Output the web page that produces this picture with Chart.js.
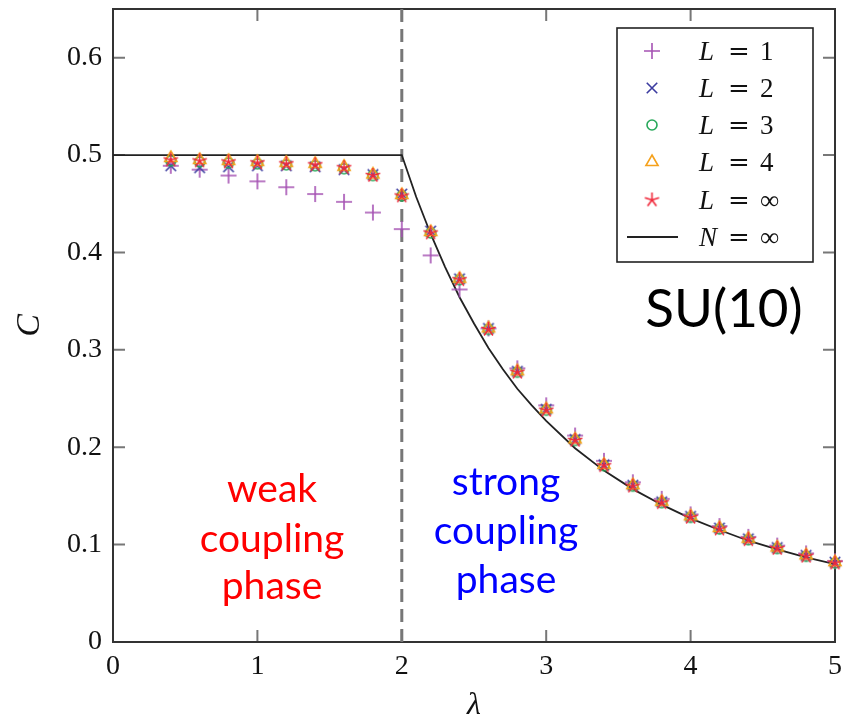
<!DOCTYPE html>
<html>
<head>
<meta charset="utf-8">
<script src="https://cdn.jsdelivr.net/npm/chart.js@4.4.1/dist/chart.umd.min.js"></script>
<style>
  html, body { margin: 0; padding: 0; background: #fff; }
  #wrap { width: 844px; height: 721px; }
</style>
</head>
<body>
<div id="wrap"><canvas id="c" width="844" height="721"></canvas></div>
<script>
// Coupling values λ at which C was computed
const lambdaVals = [0.4, 0.6, 0.8, 1.0, 1.2, 1.4, 1.6, 1.8, 2.0, 2.2, 2.4, 2.6,
                    2.8, 3.0, 3.2, 3.4, 3.6, 3.8, 4.0, 4.2, 4.4, 4.6, 4.8, 5.0];

// C for each truncation L
const cL1 = [0.489, 0.485, 0.479, 0.473, 0.467, 0.460, 0.452, 0.441, 0.424, 0.397, 0.362, 0.322,
             0.281, 0.243, 0.212, 0.186, 0.164, 0.147, 0.131, 0.119, 0.108, 0.099, 0.091, 0.083];
const cL2 = [0.489, 0.487, 0.488, 0.489, 0.489, 0.488, 0.485, 0.480, 0.460, 0.422, 0.373, 0.322,
             0.278, 0.239, 0.208, 0.182, 0.161, 0.144, 0.129, 0.117, 0.106, 0.097, 0.089, 0.082];
const cL3 = [0.494, 0.493, 0.492, 0.491, 0.490, 0.489, 0.486, 0.479, 0.458, 0.420, 0.372, 0.321,
             0.277, 0.238, 0.207, 0.181, 0.160, 0.143, 0.128, 0.116, 0.105, 0.096, 0.088, 0.081];
const cL4 = [0.497, 0.495, 0.494, 0.493, 0.492, 0.491, 0.488, 0.480, 0.459, 0.421, 0.373, 0.322,
             0.278, 0.239, 0.208, 0.182, 0.161, 0.144, 0.129, 0.117, 0.106, 0.097, 0.089, 0.082];
const cLinf = [0.495, 0.494, 0.493, 0.492, 0.491, 0.490, 0.487, 0.479, 0.458, 0.420, 0.372, 0.321,
               0.277, 0.238, 0.207, 0.181, 0.160, 0.143, 0.128, 0.116, 0.105, 0.096, 0.088, 0.081];

// Large-N curve
const curveLambda = [0, 2.0, 2.1, 2.2, 2.3, 2.4, 2.5, 2.6, 2.7, 2.8, 2.9, 3.0,
                     3.2, 3.4, 3.6, 3.8, 4.0, 4.2, 4.4, 4.6, 4.8, 5.0];
const curveC = [0.500, 0.500, 0.457, 0.419, 0.385, 0.354, 0.327, 0.302, 0.280, 0.260, 0.243, 0.227,
                0.199, 0.176, 0.157, 0.141, 0.127, 0.115, 0.104, 0.095, 0.087, 0.080];

// Phase boundary
const criticalLambda = 2;

// Axis ticks
const xTicks = [0, 1, 2, 3, 4, 5];
const yTicks = [0, 0.1, 0.2, 0.3, 0.4, 0.5, 0.6];

const seriesLabels = ['1', '2', '3', '4', '\u221E'];

const COLORS = {
  L1: '#a552b3',
  L2: '#3c3ca0',
  L3: '#27a85a',
  L4: '#f5a11c',
  Linf: '#f0283a',
  curve: '#222222',
  dash: '#777777'
};

// Marker glyphs drawn once onto small canvases
function makeMarker(kind, color, r) {
  const s = Math.ceil(2 * r + 4);
  const cv = document.createElement('canvas');
  cv.width = s; cv.height = s;
  const g = cv.getContext('2d');
  g.strokeStyle = color;
  g.lineWidth = 1.6;
  const c = s / 2;
  g.beginPath();
  if (kind === 'plus') {
    g.moveTo(c - r, c); g.lineTo(c + r, c);
    g.moveTo(c, c - r); g.lineTo(c, c + r);
  } else if (kind === 'cross') {
    const d = r * 0.75;
    g.moveTo(c - d, c - d); g.lineTo(c + d, c + d);
    g.moveTo(c - d, c + d); g.lineTo(c + d, c - d);
  } else if (kind === 'circle') {
    g.arc(c, c, r, 0, Math.PI * 2);
  } else if (kind === 'triangle') {
    g.moveTo(c, c - r);
    g.lineTo(c + r * 0.866, c + r * 0.5);
    g.lineTo(c - r * 0.866, c + r * 0.5);
    g.closePath();
  } else if (kind === 'star') {
    for (let k = 0; k < 5; k++) {
      const a = (-90 + 72 * k) * Math.PI / 180;
      g.moveTo(c, c);
      g.lineTo(c + r * Math.cos(a), c + r * Math.sin(a));
    }
  }
  g.stroke();
  return cv;
}

const markers = [
  makeMarker('plus', COLORS.L1, 8),
  makeMarker('cross', COLORS.L2, 7),
  makeMarker('circle', COLORS.L3, 5),
  makeMarker('triangle', COLORS.L4, 7),
  makeMarker('star', COLORS.Linf, 7.5)
];

function pts(xs, ys) { return xs.map((x, i) => ({ x: x, y: ys[i] })); }

function markerSet(label, ys, marker, order) {
  return {
    label: label,
    data: pts(lambdaVals, ys),
    showLine: false,
    pointStyle: marker,
    pointRadius: 8,
    pointHoverRadius: 8,
    order: order,
    clip: false
  };
}

const datasets = [
  markerSet('L = 1', cL1, markers[0], 5),
  markerSet('L = 2', cL2, markers[1], 4),
  markerSet('L = 3', cL3, markers[2], 3),
  markerSet('L = 4', cL4, markers[3], 2),
  markerSet('L = \u221E', cLinf, markers[4], 1),
  {
    label: 'N = \u221E',
    data: pts(curveLambda, curveC),
    showLine: true,
    borderColor: COLORS.curve,
    borderWidth: 1.8,
    pointRadius: 0,
    tension: 0,
    order: 8
  },
  {
    label: 'boundary',
    data: [{ x: criticalLambda, y: 0 }, { x: criticalLambda, y: 0.65 }],
    showLine: true,
    borderColor: COLORS.dash,
    borderWidth: 3,
    borderDash: [13, 7],
    pointRadius: 0,
    order: 9
  }
];

const serif = '"Liberation Serif", "DejaVu Serif", serif';
const sans = 'Lato, "DejaVu Sans", sans-serif';

// Frame, inward ticks on all four sides, phase labels and the legend box
const decorations = {
  id: 'decorations',
  beforeDatasetsDraw(chart) {
    const { ctx, chartArea: a, scales } = chart;
    ctx.save();
    ctx.strokeStyle = '#777';
    ctx.lineWidth = 2;
    const tl = 12;
    ctx.beginPath();
    xTicks.forEach(v => {
      if (v <= 0 || v >= 5) return;
      const px = scales.x.getPixelForValue(v);
      ctx.moveTo(px, a.bottom); ctx.lineTo(px, a.bottom - tl);
      ctx.moveTo(px, a.top); ctx.lineTo(px, a.top + tl);
    });
    yTicks.forEach(v => {
      if (v <= 0) return;
      const py = scales.y.getPixelForValue(v);
      ctx.moveTo(a.left, py); ctx.lineTo(a.left + tl, py);
      ctx.moveTo(a.right, py); ctx.lineTo(a.right - tl, py);
    });
    ctx.stroke();
    ctx.strokeStyle = '#333';
    ctx.lineWidth = 2;
    ctx.strokeRect(a.left, a.top, a.right - a.left, a.bottom - a.top);
    ctx.restore();
  },
  afterDraw(chart) {
    const { ctx } = chart;
    ctx.save();
    ctx.textAlign = 'center';
    ctx.textBaseline = 'alphabetic';
    ctx.font = '39px ' + sans;
    ctx.fillStyle = '#ff0000';
    ctx.fillText('weak', 272, 502);
    ctx.fillText('coupling', 272, 552);
    ctx.fillText('phase', 272, 599);
    ctx.fillStyle = '#0000ff';
    ctx.fillText('strong', 506, 495);
    ctx.fillText('coupling', 506, 544);
    ctx.fillText('phase', 506, 593);
    ctx.fillStyle = '#000';
    ctx.font = '53px ' + sans;
    ctx.fillText('SU(10)', 724, 327);

    // legend
    const bx = 617, by = 28, bw = 196, bh = 234;
    ctx.fillStyle = '#fff';
    ctx.fillRect(bx, by, bw, bh);
    ctx.strokeStyle = '#222';
    ctx.lineWidth = 1.6;
    ctx.strokeRect(bx, by, bw, bh);
    const rows = [51, 88, 125, 162, 200, 237];
    ctx.textAlign = 'left';
    ctx.textBaseline = 'alphabetic';
    ctx.fillStyle = '#111';
    rows.forEach((ry, i) => {
      if (i < 5) {
        const m = markers[i];
        ctx.drawImage(m, 652 - m.width / 2, ry - m.height / 2);
      } else {
        ctx.strokeStyle = COLORS.curve;
        ctx.lineWidth = 1.8;
        ctx.beginPath();
        ctx.moveTo(627, ry); ctx.lineTo(678, ry);
        ctx.stroke();
      }
      const base = ry + 9;
      ctx.font = 'italic 27px ' + serif;
      ctx.fillText(i < 5 ? 'L' : 'N', 699, base);
      ctx.font = '26px "DejaVu Serif", serif';
      ctx.fillText('=', 728, base);
      ctx.font = '27px ' + serif;
      ctx.fillText(i < 5 ? seriesLabels[i] : '\u221E', 760, base);
    });
    ctx.restore();
  }
};

new Chart(document.getElementById('c'), {
  type: 'scatter',
  data: { datasets: datasets },
  options: {
    responsive: false,
    animation: false,
    devicePixelRatio: 1,
    layout: { padding: { top: 8, right: 9, left: 0, bottom: 0 } },
    plugins: {
      legend: { display: false },
      tooltip: { enabled: false }
    },
    scales: {
      x: {
        type: 'linear',
        min: 0,
        max: 5,
        afterBuildTicks: s => { s.ticks = xTicks.map(v => ({ value: v })); },
        afterFit: s => { s.height = 79; s.paddingLeft = 0; s.paddingRight = 0; },
        grid: { display: false, drawTicks: false },
        border: { display: false },
        ticks: {
          font: { family: serif, size: 28 },
          color: '#111',
          padding: 8,
          callback: v => String(v)
        },
        title: {
          display: true,
          text: '\u03BB',
          font: { family: serif, size: 32, style: 'italic' },
          color: '#111',
          padding: { top: 0, bottom: -4 }
        }
      },
      y: {
        type: 'linear',
        min: 0,
        max: 0.65,
        afterBuildTicks: s => { s.ticks = yTicks.map(v => ({ value: v })); },
        afterFit: s => { s.width = 113; s.paddingTop = 0; s.paddingBottom = 0; },
        grid: { display: false, drawTicks: false },
        border: { display: false },
        ticks: {
          font: { family: serif, size: 28 },
          color: '#111',
          padding: 11,
          callback: v => (v === 0 ? '0' : v.toFixed(1))
        },
        title: {
          display: true,
          text: 'C',
          font: { family: serif, size: 34, style: 'italic' },
          color: '#111',
          padding: { top: 10, bottom: 0 }
        }
      }
    }
  },
  plugins: [decorations]
});
</script>
</body>
</html>
